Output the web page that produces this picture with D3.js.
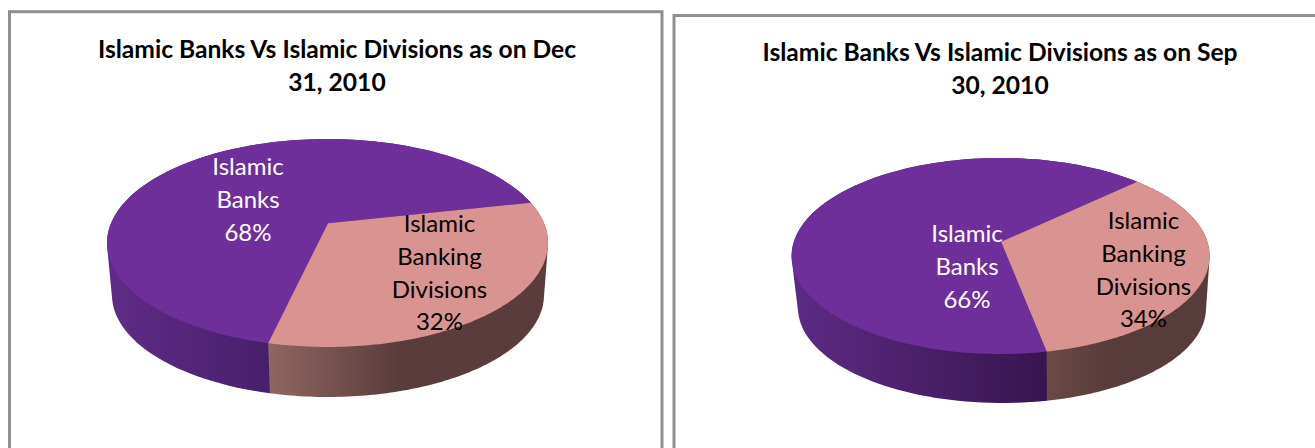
<!DOCTYPE html>
<html>
<head>
<meta charset="utf-8">
<style>
  html, body { margin: 0; padding: 0; background: #fff; }
  svg { display: block; }
  text { font-family: Lato, "Open Sans", sans-serif; }
</style>
<script src="https://cdn.jsdelivr.net/npm/d3@7/dist/d3.min.js"></script>
</head>
<body>
<svg id="chart" width="1315" height="448"></svg>
<script>
// Share of the sector held by each institution type, per reporting date.
const categories = ["Islamic Banks", "Islamic Banking Divisions"];
const dec2010Shares = [68, 32];
const sep2010Shares = [66, 34];
const dec2010Title = ["Islamic Banks Vs Islamic Divisions as on Dec", "31, 2010"];
const sep2010Title = ["Islamic Banks Vs Islamic Divisions as on Sep", "30, 2010"];

const labelLines = [["Islamic", "Banks"], ["Islamic", "Banking", "Divisions"]];
const textFills = ["#ffffff", "#000000"];
const topFills = ["#6f2f9b", "#d99391"];

// Panel layout: frame, top and bottom rims of the disc, perspective shift, label anchors.
const panels = [
  {
    id: "dec", shares: dec2010Shares, title: dec2010Title,
    frame: { x: 9.5, y: 11.7, w: 652.5, h: 460 },
    titleX: 337, titleY: [57.5, 90.5],
    top: { cx: 327.5, cy: 243, rx: 220.5, ry: 104 },
    bottom: { cx: 328, cy: 295, rx: 216, ry: 102 },
    tilt: 0.096, startDeg: 192.9,
    labels: [{ x: 248, y: 175 }, { x: 439.5, y: 232 }],
    wall: [["#5f2b86", "#481f6b"], ["#8f6661", "#5a3c3c"]],
    wallStops: [[113, 269], [269, 400]]
  },
  {
    id: "sep", shares: sep2010Shares, title: sep2010Title,
    frame: { x: 674, y: 15.5, w: 660, h: 460 },
    titleX: 1000, titleY: [61, 94],
    top: { cx: 1000.6, cy: 256, rx: 209, ry: 98 },
    bottom: { cx: 1002, cy: 308, rx: 204, ry: 95 },
    tilt: 0.0734, startDeg: 169,
    labels: [{ x: 967, y: 242 }, { x: 1143.5, y: 229 }],
    wall: [["#5c2a83", "#391550"], ["#6b4b46", "#583b3b"]],
    wallStops: [[798, 1043], [1043, 1110]]
  }
];

const svg = d3.select("#chart");
const defs = svg.append("defs");
const lineStep = 32.8;
const labelSize = 24;
const titleSize = 24.6;

// Maps a disc angle (clockwise from 12 o'clock) to the angle on the drawn ellipse,
// so that the disc centre lands off the ellipse centre as it does under perspective.
function rimAngle(a, tilt) {
  const x = Math.sin(a), y = -Math.cos(a);
  // (z + p) / (1 + conj(p) z) with p = -i * tilt, y pointing down the screen
  const nx = x, ny = y - tilt;
  const dx = 1 - tilt * y, dy = tilt * x;
  const d2 = dx * dx + dy * dy;
  return Math.atan2((ny * dx - nx * dy) / d2, (nx * dx + ny * dy) / d2);
}

function rimPoint(a, ring, tilt) {
  const t = rimAngle(a, tilt);
  return [ring.cx + ring.rx * Math.cos(t), ring.cy + ring.ry * Math.sin(t)];
}

function arcPoints(a0, a1, ring, tilt) {
  const n = 120;
  return d3.range(n + 1).map(i => rimPoint(a0 + (a1 - a0) * i / n, ring, tilt));
}

const outline = d3.line();

panels.forEach(p => {
  const g = svg.append("g").attr("id", p.id);

  g.append("rect")
    .attr("x", p.frame.x).attr("y", p.frame.y)
    .attr("width", p.frame.w).attr("height", p.frame.h)
    .attr("fill", "#ffffff").attr("stroke", "#8f8f8f").attr("stroke-width", 3);

  g.append("text")
    .attr("text-anchor", "middle")
    .attr("font-weight", 700).attr("font-size", titleSize).attr("fill", "#000")
    .selectAll("tspan").data(p.title).join("tspan")
    .attr("x", p.titleX)
    .attr("y", (d, i) => p.titleY[i])
    .text(d => d);

  const startAngle = p.startDeg * Math.PI / 180;
  const slices = d3.pie().sort(null)
    .startAngle(startAngle).endAngle(startAngle + 2 * Math.PI)(p.shares);

  // Side wall of each slice: the hull of its two rims, later slices and the top face overpaint the rest.
  slices.forEach((s, i) => {
    const gradId = `${p.id}-wall-${i}`;
    const grad = defs.append("linearGradient").attr("id", gradId)
      .attr("gradientUnits", "userSpaceOnUse")
      .attr("x1", p.wallStops[i][0]).attr("x2", p.wallStops[i][1])
      .attr("y1", 0).attr("y2", 0);
    grad.selectAll("stop").data(p.wall[i]).join("stop")
      .attr("offset", (d, j) => j).attr("stop-color", d => d);

    const upper = arcPoints(s.startAngle, s.endAngle, p.top, p.tilt);
    const lower = arcPoints(s.startAngle, s.endAngle, p.bottom, p.tilt);
    g.append("path")
      .attr("d", outline(d3.polygonHull(upper.concat(lower))) + "Z")
      .attr("fill", `url(#${gradId})`);
  });

  // Top face: each wedge runs from the shifted centre out along the rim.
  const apex = [p.top.cx + 0.5, p.top.cy - p.top.ry * 2 * p.tilt / (1 + p.tilt * p.tilt)];
  slices.forEach((s, i) => {
    const rim = arcPoints(s.startAngle, s.endAngle, p.top, p.tilt);
    g.append("path")
      .attr("d", outline([apex].concat(rim)) + "Z")
      .attr("fill", topFills[i]);
  });

  slices.forEach((s, i) => {
    const lines = labelLines[i].concat(`${s.value}%`);
    g.append("text")
      .attr("text-anchor", "middle")
      .attr("font-size", labelSize)
      .attr("fill", textFills[i])
      .selectAll("tspan").data(lines).join("tspan")
      .attr("x", p.labels[i].x)
      .attr("y", (d, j) => p.labels[i].y + j * lineStep)
      .text(d => d);
  });
});
</script>
</body>
</html>
